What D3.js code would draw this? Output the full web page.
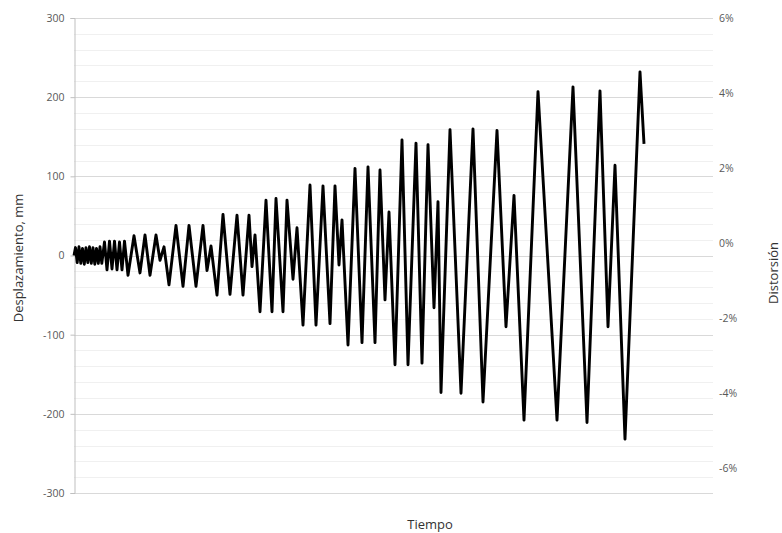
<!DOCTYPE html>
<html>
<head>
<meta charset="utf-8">
<script src="https://cdn.jsdelivr.net/npm/d3@7"></script>
<style>
  html, body { margin: 0; padding: 0; background: #fff; }
  svg { display: block; }
  text { font-family: "Open Sans", "Noto Sans", sans-serif; }
</style>
</head>
<body>
<script>
// Time (arbitrary units) at each turning point of the record
const tiempo = [0,1.5,3.2,5,6.8,8.5,10.3,12,13.8,15.5,17.3,19,20.8,22.5,24.3,26,27.8,
  30.5,33,35.5,38,40.5,43,45.5,48,50.5,
  54,60,66,71,76,82,86,90,95,
  102,109,115,122,129,133,137,
  143,149,156,163,169,175,178,181,
  186,192,198,202,209,213,219,223,
  229,236,242,249,256,261,265,268,
  274,281,288,294,301,306,311,315,
  321,328,334,342,348,354,360,364,
  367,376,387,399,409,423,432,440,
  450,464,483,499,513,526,534,541,
  551,566,570];
// Displacement (mm) at each turning point
const desplazamiento = [0,10,-9,11,-10,9,-11,10,-9,11,-10,10,-11,9,-10,11,-10,
  17,-18,18,-17,18,-18,17,-18,18,
  -25,25,-22,26,-25,26,-6,11,-37,
  38,-39,38,-39,38,-19,12,
  -50,52,-49,51,-50,51,-14,26,
  -71,70,-71,72,-71,70,-30,35,
  -88,89,-88,88,-86,88,-12,45,
  -113,110,-110,112,-110,108,-56,55,
  -138,146,-138,142,-136,140,-66,68,
  -173,159,-174,160,-185,158,-90,76,
  -208,207,-208,213,-211,208,-90,114,
  -232,232,141];
const tiempoDominio = [0, 639];
const ticksIzq = [-300,-200,-100,0,100,200,300];
const ticksDer = [-0.06,-0.04,-0.02,0,0.02,0.04,0.06];
const tituloIzq = "Desplazamiento, mm";
const tituloDer = "Distorsión";
const tituloX = "Tiempo";

const W = 782, H = 533;
const svg = d3.select("body").append("svg").attr("width", W).attr("height", H);
svg.append("rect").attr("width", W).attr("height", H).attr("fill", "#fff");

const x = d3.scaleLinear().domain(tiempoDominio).range([74, 713]);
const y = d3.scaleLinear().domain([-300, 300]).range([493, 18]);
const yR = d3.scaleLinear().domain([-0.06, 0.06]).range([468, 18]);

// gridlines
const grid = d3.range(-300, 301, 20);
svg.append("g").selectAll("line").data(grid).join("line")
  .attr("x1", 74).attr("x2", 713)
  .attr("y1", d => Math.round(y(d)) + 0.5).attr("y2", d => Math.round(y(d)) + 0.5)
  .attr("stroke", d => d % 100 === 0 ? "#d9d9d9" : "#f0f0f0")
  .attr("stroke-width", 1);

// left axis
const gL = svg.append("g").attr("transform", "translate(74.5,0)")
  .call(d3.axisLeft(y).tickValues(ticksIzq).tickSize(4).tickPadding(6).tickFormat(d => String(d)));
gL.select(".domain").attr("stroke", "#bfbfbf");
gL.selectAll(".tick line").attr("stroke", "#bfbfbf");
gL.selectAll("text").attr("fill", "#595959").style("font-size", "10.5px");

// right axis labels
const gR = svg.append("g").attr("transform", "translate(716,0)")
  .call(d3.axisRight(yR).tickValues(ticksDer).tickSize(0).tickPadding(3)
    .tickFormat(d => Math.round(d * 100) + "%"));
gR.select(".domain").remove();
gR.selectAll("text").attr("fill", "#595959").style("font-size", "10.5px");

// data line
const pts = tiempo.map((t, i) => [t, desplazamiento[i]]);
svg.append("path").datum(pts)
  .attr("fill", "none").attr("stroke", "#000").attr("stroke-width", 2.9)
  .attr("stroke-linejoin", "round").attr("stroke-linecap", "butt")
  .attr("d", d3.line().x(d => x(d[0])).y(d => y(d[1])));

// titles
svg.append("text").attr("transform", "translate(23,258) rotate(-90)")
  .attr("text-anchor", "middle").attr("fill", "#333").style("font-size", "13px").text(tituloIzq);
svg.append("text").attr("transform", "translate(778,273) rotate(-90)")
  .attr("text-anchor", "middle").attr("fill", "#333").style("font-size", "13px").text(tituloDer);
svg.append("text").attr("x", 430).attr("y", 529)
  .attr("text-anchor", "middle").attr("fill", "#333").style("font-size", "13px").text(tituloX);
</script>
</body>
</html>
